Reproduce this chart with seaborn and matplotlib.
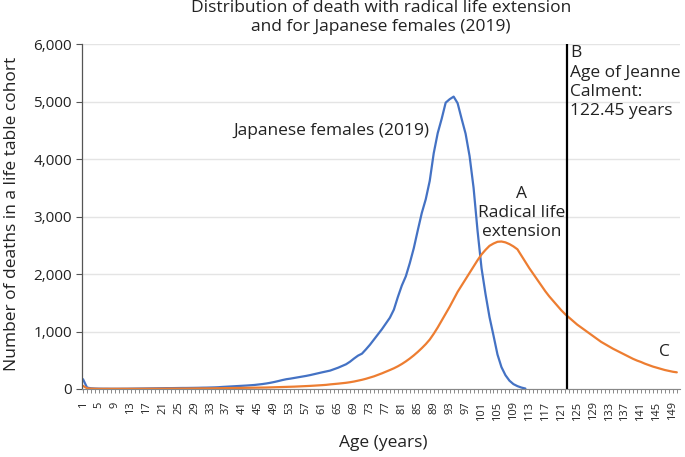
import numpy as np
import pandas as pd
import matplotlib
matplotlib.use("Agg")
import matplotlib.pyplot as plt
import seaborn as sns
from matplotlib.ticker import FuncFormatter, MultipleLocator

# Japanese females (2019), deaths per age (ages 1..112)
japan_ages = list(range(1, 113))
japan_deaths = [
    170, 25, 12, 8, 6, 5, 5, 4, 4, 4,
    5, 5, 6, 7, 8, 9, 10, 11, 12, 13,
    14, 15, 15, 16, 17, 18, 18, 19, 20, 21,
    23, 24, 26, 28, 31, 36, 40, 44, 48, 52,
    56, 60, 65, 70, 78, 86, 96, 108, 122, 138,
    155, 170, 180, 192, 204, 216, 228, 242, 258, 274,
    290, 305, 320, 345, 370, 400, 430, 475, 530, 580,
    615, 690, 770, 860, 950, 1040, 1140, 1240, 1380, 1600,
    1800, 1960, 2190, 2450, 2760, 3060, 3300, 3620, 4100, 4450,
    4700, 4980, 5040, 5085, 4970, 4700, 4440, 4050, 3500, 2750,
    2100, 1650, 1250, 930, 600, 380, 240, 145, 85, 50,
    25, 8,
]

# Radical life extension, deaths per age (ages 1..150)
radical_ages = list(range(1, 151))
radical_deaths = [
    55, 12, 6, 4, 3, 3, 3, 3, 3, 3,
    3, 3, 4, 4, 4, 5, 5, 5, 6, 6,
    6, 7, 7, 7, 8, 8, 8, 9, 9, 10,
    10, 11, 11, 12, 13, 13, 14, 15, 16, 17,
    18, 19, 20, 22, 23, 25, 26, 28, 30, 32,
    34, 36, 38, 41, 44, 47, 50, 54, 58, 62,
    67, 72, 80, 86, 93, 100, 108, 118, 130, 145,
    160, 178, 198, 220, 245, 272, 300, 330, 360, 395,
    435, 480, 530, 585, 645, 710, 780, 860, 960, 1070,
    1190, 1310, 1430, 1560, 1690, 1800, 1910, 2020, 2130, 2240,
    2340, 2420, 2490, 2530, 2560, 2565, 2550, 2520, 2480, 2430,
    2320, 2210, 2100, 2000, 1900, 1800, 1700, 1610, 1530, 1450,
    1370, 1300, 1240, 1180, 1120, 1070, 1020, 970, 920, 870,
    820, 780, 740, 700, 665, 630, 595, 560, 525, 495,
    470, 440, 415, 390, 370, 350, 330, 315, 300, 290,
]

calment_age = 122.45
tick_ages = list(range(1, 150, 4))

df_japan = pd.DataFrame({"age": japan_ages, "deaths": japan_deaths})
df_radical = pd.DataFrame({"age": radical_ages, "deaths": radical_deaths})

sns.set_style("white")
plt.rcParams["font.family"] = ["Open Sans", "DejaVu Sans"]

text_col = "#222222"
fig = plt.figure(figsize=(6.85, 4.57), dpi=100)
ax = fig.add_axes([0.1193, 0.1488, 0.9927 - 0.1193, 0.9037 - 0.1488])

ax.yaxis.grid(True, color="#e4e4e4", linewidth=1.0)
ax.set_axisbelow(True)

sns.lineplot(data=df_japan, x="age", y="deaths", color="#4472C4", linewidth=1.6, ax=ax)
sns.lineplot(data=df_radical, x="age", y="deaths", color="#ED7D31", linewidth=1.6, ax=ax)
ax.axvline(calment_age, color="black", linewidth=1.6)

ax.set_xlim(0.67, 150.8)
ax.set_ylim(0, 6000)
ax.set_xticks(tick_ages)
ax.set_xticklabels([str(a) for a in tick_ages], rotation=90)
ax.xaxis.set_minor_locator(MultipleLocator(1))
ax.yaxis.set_major_locator(MultipleLocator(1000))
ax.yaxis.set_major_formatter(FuncFormatter(lambda v, p: f"{int(v):,}"))

ax.tick_params(axis="x", which="both", bottom=True, length=3, width=0.6,
               color="#777777", labelsize=8, labelcolor=text_col, pad=6)
ax.tick_params(axis="y", left=True, length=4, width=0.8, color="#555555",
               labelsize=11, labelcolor=text_col, pad=3)
for s in ["top", "right"]:
    ax.spines[s].set_visible(False)
ax.spines["left"].set_color("#555555")
ax.spines["bottom"].set_color("#888888")
ax.spines["left"].set_linewidth(0.9)
ax.spines["bottom"].set_linewidth(0.8)
ax.set_xlabel("")
ax.set_ylabel("")

# annotations
ax.text(63.2, 4480, "Japanese females (2019)", ha="center", va="center",
        fontsize=12.5, color=text_col)
ax.text(111.1, 3060, "A\nRadical life\nextension", ha="center", va="center",
        fontsize=12.5, color=text_col, linespacing=1.26)
ax.text(123.2, 5975, "B\nAge of Jeanne\nCalment:\n122.45 years", ha="left", va="top",
        fontsize=12.5, color=text_col, linespacing=1.26)
ax.text(146.8, 640, "C", ha="center", va="center", fontsize=12.5, color=text_col)

fig.text(0.556, 0.999, "Distribution of death with radical life extension\nand for Japanese females (2019)",
         ha="center", va="top", fontsize=12.5, color=text_col, linespacing=1.25)
fig.text(0.018, 0.532, "Number of deaths in a life table cohort", rotation=90,
         ha="center", va="center", fontsize=12.5, color=text_col)
fig.text(0.559, 0.031, "Age (years)", ha="center", va="center", fontsize=12.5, color=text_col)

fig.savefig("out.png", dpi=100)
